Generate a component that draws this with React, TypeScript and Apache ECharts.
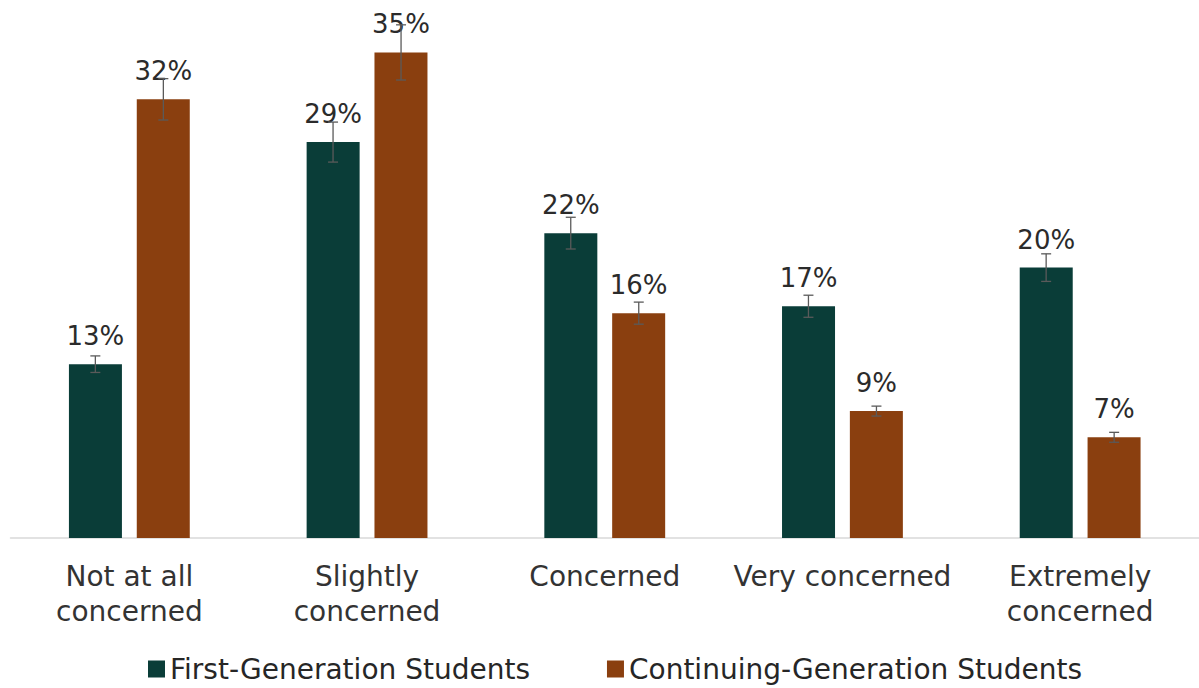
import React, { useEffect, useRef } from "react";
import * as echarts from "echarts";

const categories = [
  "Not at all\nconcerned",
  "Slightly\nconcerned",
  "Concerned",
  "Very concerned",
  "Extremely\nconcerned",
];
const seriesNames = ["First-Generation Students", "Continuing-Generation Students"];
const firstGen = [12.6, 28.7, 22.1, 16.8, 19.6];
const contGen = [31.8, 35.2, 16.3, 9.2, 7.3];
const firstGenErr = [0.6, 1.45, 1.15, 0.8, 1.0];
const contGenErr = [1.5, 2.0, 0.8, 0.36, 0.36];

const TEAL = "#0A3D38";
const BROWN = "#8A3F0F";
const FONT = "DejaVu Sans";

function errorSeries(values: number[], errs: number[], offset: number, name: string) {
  return {
    type: "custom",
    name: name + " error",
    z: 10,
    silent: true,
    encode: { x: 0, y: 1 },
    data: values.map((v, i) => [i, v, errs[i]]),
    renderItem: (params: any, api: any) => {
      const i = api.value(0);
      const v = api.value(1);
      const e = api.value(2);
      const top = api.coord([i, v + e]);
      const bot = api.coord([i, v - e]);
      const cx = top[0] + offset;
      const style = { stroke: "#5a5a5a", lineWidth: 1.3 };
      return {
        type: "group",
        children: [
          { type: "line", shape: { x1: cx, y1: top[1], x2: cx, y2: bot[1] }, style },
          { type: "line", shape: { x1: cx - 5, y1: top[1], x2: cx + 5, y2: top[1] }, style },
          { type: "line", shape: { x1: cx - 5, y1: bot[1], x2: cx + 5, y2: bot[1] }, style },
        ],
      };
    },
  };
}

export default function App() {
  const ref = useRef<HTMLDivElement>(null);
  useEffect(() => {
    if (!ref.current) return;
    const chart = echarts.init(ref.current, null, { renderer: "svg" });
    const labelCfg = {
      show: true,
      position: "top",
      distance: 15,
      fontFamily: FONT,
      fontSize: 26,
      color: "#2b2b2b",
      formatter: (p: any) => Math.round(p.value) + "%",
    };
    chart.setOption({
      animation: false,
      backgroundColor: "#ffffff",
      textStyle: { fontFamily: FONT },
      grid: { left: 10.5, width: 1195, top: 0, bottom: 150, containLabel: false },
      legend: {
        left: 143,
        top: 650,
        itemWidth: 17,
        itemHeight: 17,
        itemGap: 77,
        icon: "rect",
        data: seriesNames,
        textStyle: { fontFamily: FONT, fontSize: 28, color: "#262626" },
      },
      xAxis: {
        type: "category",
        data: categories,
        axisLine: { show: true, lineStyle: { color: "#d9d9d9", width: 1.5 } },
        axisTick: { show: false },
        axisLabel: {
          interval: 0,
          margin: 21,
          fontFamily: FONT,
          fontSize: 28,
          lineHeight: 35,
          color: "#333333",
        },
      },
      yAxis: {
        type: "value",
        min: 0,
        max: 39,
        show: false,
        splitLine: { show: false },
      },
      series: [
        {
          type: "bar",
          name: seriesNames[0],
          data: firstGen,
          barWidth: 53,
          barGap: "28%",
          itemStyle: { color: TEAL },
          label: labelCfg,
        },
        {
          type: "bar",
          name: seriesNames[1],
          data: contGen,
          barWidth: 53,
          barGap: "28%",
          itemStyle: { color: BROWN },
          label: labelCfg,
        },
        errorSeries(firstGen, firstGenErr, -34, seriesNames[0]),
        errorSeries(contGen, contGenErr, 34, seriesNames[1]),
      ],
    });
    return () => chart.dispose();
  }, []);
  return (
    <div
      ref={ref}
      style={{ position: "fixed", left: 0, top: 0, width: 1199, height: 688 }}
    />
  );
}
